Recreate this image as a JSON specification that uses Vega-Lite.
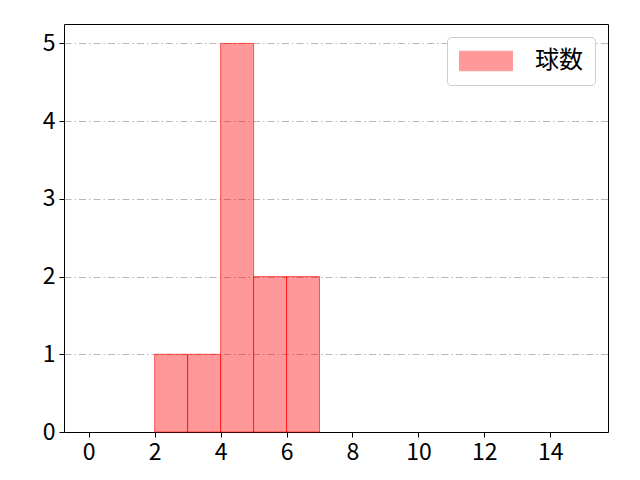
{
  "$schema": "https://vega.github.io/schema/vega-lite/v6.json",
  "width": 544,
  "height": 408,
  "autosize": {"type": "none"},
  "padding": {"left": 64, "top": 24, "right": 32, "bottom": 48},
  "background": "white",
  "data": {
    "values": [
      {"start": 2, "end": 3, "count": 1, "series": "球数"},
      {"start": 3, "end": 4, "count": 1, "series": "球数"},
      {"start": 4, "end": 5, "count": 5, "series": "球数"},
      {"start": 5, "end": 6, "count": 2, "series": "球数"},
      {"start": 6, "end": 7, "count": 2, "series": "球数"}
    ]
  },
  "mark": {"type": "bar", "fillOpacity": 0.4, "stroke": "#ff0000", "strokeOpacity": 0.6, "strokeWidth": 1},
  "encoding": {
    "x": {
      "field": "start",
      "type": "quantitative",
      "scale": {"domain": [-0.75, 15.75], "nice": false, "zero": false},
      "axis": {"values": [0, 2, 4, 6, 8, 10, 12, 14], "title": null, "grid": false}
    },
    "x2": {"field": "end"},
    "y": {
      "field": "count",
      "type": "quantitative",
      "scale": {"domain": [0, 5.25], "nice": false},
      "axis": {
        "values": [0, 1, 2, 3, 4, 5],
        "title": null,
        "grid": true,
        "gridColor": "#b0b0b0",
        "gridOpacity": {"condition": {"test": "datum.value === 0", "value": 0}, "value": 1},
        "gridDash": [7, 3, 1.5, 3],
        "gridWidth": 0.9
      }
    },
    "y2": {"datum": 0},
    "color": {
      "field": "series",
      "type": "nominal",
      "scale": {"range": ["#ff0000"]},
      "legend": {
        "title": null,
        "orient": "none",
        "legendX": 383,
        "legendY": 13,
        "symbolType": "M-2.72,-1L2.72,-1L2.72,1L-2.72,1Z",
        "symbolSize": 380,
        "symbolOffset": 15,
        "symbolOpacity": 0.4,
        "symbolStrokeWidth": 1,
        "labelOffset": 37,
        "labelFontSize": 24,
        "labelFont": "Noto Sans CJK JP",
        "labelColor": "#000000",
        "padding": 12,
        "strokeColor": "#cccccc",
        "fillColor": "white",
        "cornerRadius": 4
      }
    }
  },
  "config": {
    "view": {"stroke": "#000000", "strokeWidth": 1},
    "axis": {
      "domain": false,
      "tickColor": "#000000",
      "tickSize": 5,
      "tickWidth": 1,
      "labelFont": "Noto Sans CJK JP",
      "labelFontSize": 23,
      "labelColor": "#000000",
      "labelPadding": 4
    }
  }
}
